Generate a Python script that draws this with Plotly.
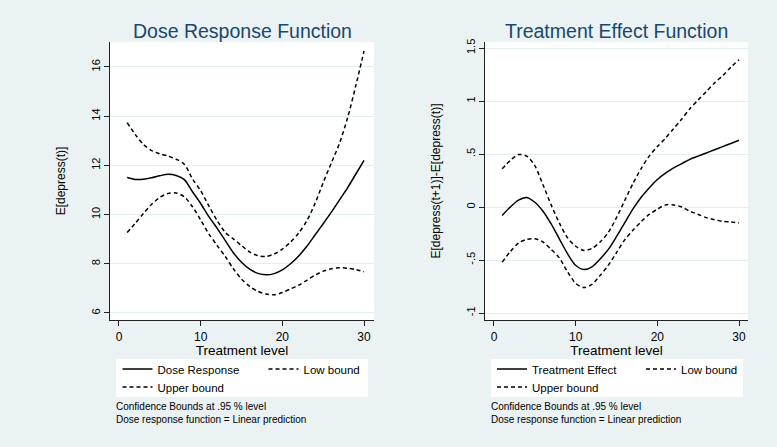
import plotly.graph_objects as go

# ---------------- data ----------------
treatment_level = list(range(1, 31))

dose_response = [11.51, 11.43, 11.44, 11.50, 11.58, 11.64, 11.59, 11.42, 10.93, 10.45,
                 9.92, 9.45, 8.95, 8.45, 8.06, 7.78, 7.61, 7.55, 7.60, 7.75,
                 8.00, 8.32, 8.71, 9.17, 9.63, 10.10, 10.60, 11.10, 11.65, 12.20]
dose_low = [9.27, 9.65, 10.05, 10.42, 10.70, 10.86, 10.88, 10.72, 10.32, 9.78,
            9.22, 8.75, 8.30, 7.80, 7.38, 7.08, 6.88, 6.77, 6.74, 6.83,
            6.98, 7.13, 7.33, 7.54, 7.70, 7.80, 7.84, 7.82, 7.76, 7.68]
dose_upper = [13.74, 13.25, 12.85, 12.60, 12.47, 12.38, 12.25, 12.05, 11.45, 10.97,
              10.35, 9.77, 9.28, 9.01, 8.74, 8.48, 8.33, 8.30, 8.40, 8.60,
              8.88, 9.25, 9.75, 10.45, 11.30, 12.10, 12.90, 13.95, 15.25, 16.65]

treat_effect = [-0.08, 0.00, 0.065, 0.09, 0.045, -0.04, -0.16, -0.30, -0.44, -0.55,
                -0.59, -0.565, -0.49, -0.40, -0.28, -0.15, -0.02, 0.09, 0.18, 0.26,
                0.32, 0.37, 0.41, 0.45, 0.48, 0.51, 0.54, 0.57, 0.60, 0.63]
treat_low = [-0.52, -0.42, -0.34, -0.305, -0.30, -0.33, -0.40, -0.48, -0.61, -0.72,
             -0.76, -0.73, -0.645, -0.55, -0.43, -0.31, -0.22, -0.14, -0.07, -0.02,
             0.02, 0.02, 0.00, -0.04, -0.07, -0.10, -0.12, -0.135, -0.14, -0.15]
treat_upper = [0.36, 0.44, 0.495, 0.48, 0.39, 0.21, 0.02, -0.15, -0.29, -0.37,
               -0.41, -0.39, -0.33, -0.24, -0.10, 0.06, 0.22, 0.36, 0.48, 0.57,
               0.65, 0.74, 0.83, 0.93, 1.01, 1.09, 1.17, 1.24, 1.32, 1.39]

x_ticks = [0, 10, 20, 30]
left_y_ticks = [6, 8, 10, 12, 14, 16]
left_y_labels = ["6", "8", "10", "12", "14", "16"]
right_y_ticks = [-1, -0.5, 0, 0.5, 1, 1.5]
right_y_labels = ["-1", "-.5", "0", ".5", "1", "1.5"]

# ---------------- styling ----------------
W, H = 777, 447
BG = "#EAF2F3"
NAVY = "#1A476F"
GRID = "#E4EDEF"
AX = "#222222"
FONT = "Liberation Sans, Arial, sans-serif"
DASH = "4px,3px"


def px_x(p):
    return p / W


def px_y(p):
    return (H - p) / H


fig = go.Figure()

line_w = 1.5
spl = dict(shape="spline", smoothing=0.8)
# left panel
fig.add_trace(go.Scatter(x=treatment_level, y=dose_response, mode="lines", name="Dose Response",
                         line=dict(color="black", width=line_w, **spl),
                         xaxis="x", yaxis="y", legend="legend"))
fig.add_trace(go.Scatter(x=treatment_level, y=dose_low, mode="lines", name="Low bound",
                         line=dict(color="black", width=line_w, dash=DASH, **spl),
                         xaxis="x", yaxis="y", legend="legend", legendwidth=60))
fig.add_trace(go.Scatter(x=treatment_level, y=dose_upper, mode="lines", name="Upper bound",
                         line=dict(color="black", width=line_w, dash=DASH, **spl),
                         xaxis="x", yaxis="y", legend="legend2", legendwidth=70))
# right panel
fig.add_trace(go.Scatter(x=treatment_level, y=treat_effect, mode="lines", name="Treatment Effect",
                         line=dict(color="black", width=line_w, **spl),
                         xaxis="x2", yaxis="y2", legend="legend3"))
fig.add_trace(go.Scatter(x=treatment_level, y=treat_low, mode="lines", name="Low bound",
                         line=dict(color="black", width=line_w, dash=DASH, **spl),
                         xaxis="x2", yaxis="y2", legend="legend3", legendwidth=60))
fig.add_trace(go.Scatter(x=treatment_level, y=treat_upper, mode="lines", name="Upper bound",
                         line=dict(color="black", width=line_w, dash=DASH, **spl),
                         xaxis="x2", yaxis="y2", legend="legend4", legendwidth=70))

y_dom = [px_y(320), px_y(42)]
common_x = dict(tickvals=x_ticks, ticks="outside", ticklen=5, tickwidth=1, tickcolor=AX,
                showline=True, linecolor=AX, linewidth=1.2, showgrid=False, zeroline=False,
                automargin=False,
                tickfont=dict(family=FONT, size=12, color="black"),
                title=dict(text="Treatment level", font=dict(family=FONT, size=13.5, color="black"),
                           standoff=0))
common_y = dict(ticks="outside", ticklen=5, tickwidth=1, tickcolor=AX, tickangle=-90,
                showline=True, linecolor=AX, linewidth=1.2, showgrid=True, gridcolor=GRID,
                gridwidth=1, zeroline=False, automargin=False,
                tickfont=dict(family=FONT, size=11, color="black"))

fig.update_layout(
    width=W, height=H,
    margin=dict(l=0, r=0, t=0, b=0, autoexpand=False),
    paper_bgcolor=BG, plot_bgcolor="white",
    font=dict(family=FONT, color="black"),
    xaxis=dict(domain=[px_x(110), px_x(374)], range=[-1.10, 31.22], anchor="y", **common_x),
    yaxis=dict(domain=y_dom, range=[5.715, 17.016], anchor="x", tickvals=left_y_ticks,
               ticktext=left_y_labels,
               title=dict(text="E[depress(t)]", font=dict(family=FONT, size=12, color="black"),
                          standoff=21),
               **common_y),
    xaxis2=dict(domain=[px_x(485), px_x(748)], range=[-1.10, 31.10], anchor="y2", **common_x),
    yaxis2=dict(domain=y_dom, range=[-1.066, 1.557], anchor="x2", tickvals=right_y_ticks,
                ticktext=right_y_labels,
                title=dict(text="E[depress(t+1)]-E[depress(t)]",
                           font=dict(family=FONT, size=12, color="black"), standoff=21),
                **common_y),
    showlegend=True,
)

leg_common = dict(orientation="h", bgcolor="rgba(0,0,0,0)", borderwidth=0,
                  font=dict(family=FONT, size=11.5, color="black"),
                  xanchor="left", yanchor="middle", itemwidth=30,
                  entrywidthmode="pixels", traceorder="normal")
fig.update_layout(
    legend=dict(x=px_x(117.5), y=px_y(369), entrywidth=101, **leg_common),
    legend2=dict(x=px_x(117.5), y=px_y(387), entrywidth=101, **leg_common),
    legend3=dict(x=px_x(492), y=px_y(369), entrywidth=104, **leg_common),
    legend4=dict(x=px_x(492), y=px_y(387), entrywidth=104, **leg_common),
)

# legend frames (white boxes)
for x0, x1 in [(116, 368), (491, 743)]:
    fig.add_shape(type="rect", xref="paper", yref="paper",
                  x0=px_x(x0), x1=px_x(x1), y0=px_y(397), y1=px_y(359),
                  fillcolor="white", line=dict(width=0), layer="below")

# panel titles
for cx, txt in [((110 + 374) / 2, "Dose Response Function"),
                ((485 + 748) / 2, "Treatment Effect Function")]:
    fig.add_annotation(x=px_x(cx), y=px_y(31.5), xref="paper", yref="paper",
                       text=txt, showarrow=False, xanchor="center", yanchor="middle",
                       font=dict(family=FONT, size=19.5, color=NAVY))

# notes
for lx in [113.5, 488.5]:
    fig.add_annotation(x=px_x(lx), y=px_y(412.5), xref="paper", yref="paper",
                       text="Confidence Bounds at .95 % level<br>Dose response function = Linear prediction",
                       showarrow=False, xanchor="left", yanchor="middle", align="left",
                       font=dict(family=FONT, size=10, color="black"))

fig.write_html("out.html", config={"displayModeBar": False},
               post_script="document.body.style.margin='0';document.body.style.overflow='hidden';")
